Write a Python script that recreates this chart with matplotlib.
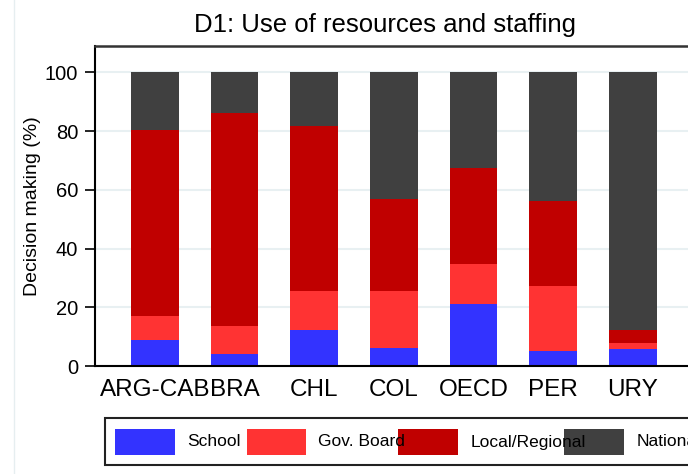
import matplotlib
matplotlib.use("Agg")
import matplotlib.pyplot as plt
import numpy as np
from matplotlib.lines import Line2D
from matplotlib.patches import Rectangle

plt.rcParams["font.family"] = ["Liberation Sans", "DejaVu Sans"]

# Share of decisions taken at each level (%)
categories = ["ARG-CAB", "BRA", "CHL", "COL", "OECD", "PER", "URY"]
school = [8.9, 4.1, 12.4, 6.3, 21.1, 5.1, 5.9]
gov_board = [8.0, 9.5, 13.3, 19.1, 13.5, 22.0, 2.0]
local_regional = [63.5, 72.6, 56.2, 31.5, 32.9, 29.2, 4.2]
national = [19.6, 13.8, 18.1, 43.1, 32.5, 43.7, 87.9]

series_labels = ["School", "Gov. Board", "Local/Regional", "National"]
series_colors = ["#3333ff", "#ff3333", "#c00000", "#404040"]

W, H = 688, 474


def fx(px):
    return px / W


def fy(py):
    return 1 - py / H


fig = plt.figure(figsize=(W / 100, H / 100), dpi=100)
ax = fig.add_axes([fx(95), fy(366), fx(692.5 - 95), (366 - 46) / H])

x = np.arange(len(categories))
bottom = np.zeros(len(categories))
for values, color in zip([school, gov_board, local_regional, national], series_colors):
    ax.bar(x, values, width=0.6, bottom=bottom, color=color, zorder=2)
    bottom += np.array(values)

ax.set_xlim(-0.75, 6.75)
ax.set_ylim(0, 109)
ax.set_yticks([0, 20, 40, 60, 80, 100])
ax.yaxis.grid(True, color="#e8f0f2", linewidth=1.5, zorder=0)
ax.set_axisbelow(True)

ax.set_xticks(x)
ax.set_xticklabels(categories, fontsize=17.5)
ax.tick_params(axis="x", length=0, pad=9)
ax.tick_params(axis="y", labelsize=14.5, length=7, width=1.2, pad=5)
ax.set_ylabel("Decision making (%)", fontsize=14, labelpad=3)

for side in ["left", "bottom"]:
    ax.spines[side].set_linewidth(1.5)
    ax.spines[side].set_color("black")
ax.spines["top"].set_color("#333333")
ax.spines["top"].set_linewidth(1.8)
ax.spines["right"].set_visible(False)

fig.text(fx(385), fy(25), "D1: Use of resources and staffing",
         fontsize=18.5, ha="center", va="center")

# faint outer border on the left
fig.add_artist(Line2D([fx(14), fx(14)], [0, 1], color="#e6eef0", linewidth=1))

# legend row drawn along the bottom
fig.add_artist(Rectangle((fx(104.5), fy(465)), fx(700 - 104.5), (465 - 418) / H,
                         transform=fig.transFigure, facecolor="white",
                         edgecolor="#222222", linewidth=1.5))
patch_left = [115.2, 246.5, 398.4, 564.4]
for left, label, color in zip(patch_left, series_labels, series_colors):
    fig.add_artist(Rectangle((fx(left), fy(455)), fx(59.3), (455 - 429) / H,
                             transform=fig.transFigure, facecolor=color,
                             edgecolor="none"))
    fig.text(fx(left + 72), fy(442), label, fontsize=12.5, ha="left", va="center")

fig.savefig("out.png", dpi=100)
